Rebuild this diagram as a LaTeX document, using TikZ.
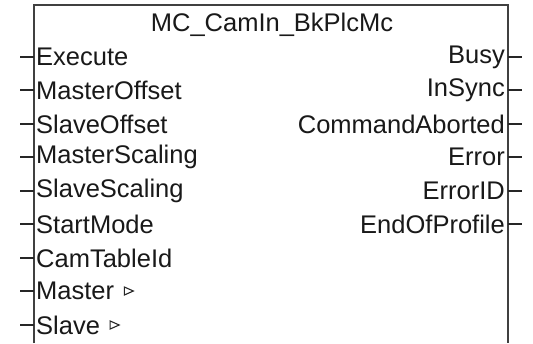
\documentclass[tikz,border=0pt]{standalone}
\usepackage{fontspec}
\setmainfont{Liberation Sans}
\begin{document}
\begin{tikzpicture}[x=1pt,y=-1pt,
  lbl/.style={font=\fontsize{25.5}{27}\selectfont, inner sep=0pt, text=black!90},
  pin/.style={line width=1.6pt, draw=black!85},
  tri/.style={line width=1.1pt, draw=black!85, line join=miter},
  border/.style={line width=1.8pt, draw=black!75}]
\useasboundingbox (0,0) rectangle (533,343);
\fill[white] (0,0) rectangle (533,343);
\coordinate (tl) at (34,5);
\coordinate (tr) at (508,5);
\coordinate (bl) at (34,343);
\coordinate (br) at (508,343);
\draw[border] (bl) -- (tl) -- (tr) -- (br);
\node[lbl, anchor=center] (title) at (272,25) {MC\_CamIn\_BkPlcMc};
% inputs
\foreach \t/\yy [count=\i] in {Execute/57,MasterOffset/90,SlaveOffset/124,MasterScaling/157,SlaveScaling/191,StartMode/224,CamTableId/258,Master/291,Slave/325} {
  \node[lbl, anchor=west] (in\i) at (36,\yy) {\t};
  \coordinate (ie\i) at (20,\yy);
  \coordinate (ib\i) at (34,\yy);
  \draw[pin] (ie\i) -- (ib\i);
}
\draw[tri, shift={(in8.east)}] (10,-4) -- (19,0) -- (10,4) -- cycle;
\draw[tri, shift={(in9.east)}] (10,-4) -- (19,0) -- (10,4) -- cycle;
% outputs
\foreach \t/\yy [count=\i] in {Busy/57,InSync/90,CommandAborted/124,Error/157,ErrorID/191,EndOfProfile/224} {
  \node[lbl, anchor=east] (out\i) at (505,\yy) {\t};
  \coordinate (ob\i) at (508,\yy);
  \coordinate (oe\i) at (522,\yy);
  \draw[pin] (ob\i) -- (oe\i);
}
\end{tikzpicture}
\end{document}
